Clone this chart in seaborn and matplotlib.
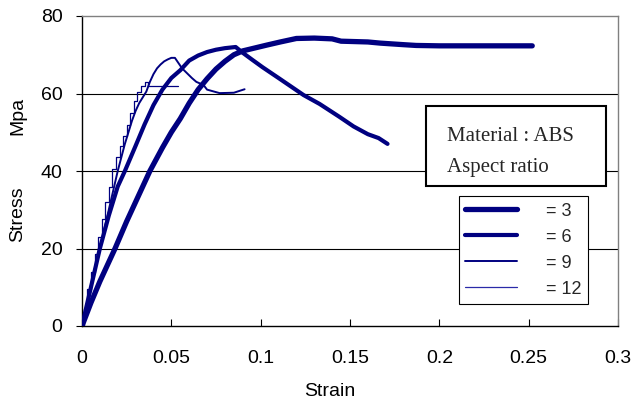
import numpy as np
import pandas as pd
import matplotlib
matplotlib.use("Agg")
import matplotlib.pyplot as plt
import seaborn as sns
from matplotlib.patches import Rectangle
from matplotlib.lines import Line2D

# ---- data ----
x_ar3 = [0, 0.005, 0.010, 0.015, 0.0185, 0.025, 0.030, 0.038, 0.045, 0.050, 0.055,
         0.060, 0.065, 0.070, 0.075, 0.080, 0.085, 0.090, 0.1035, 0.111, 0.120, 0.130, 0.140,
         0.145, 0.160, 0.167, 0.180, 0.187, 0.200, 0.230, 0.252]
y_ar3 = [0, 6, 11.5, 16.5, 20, 27, 32, 40, 46, 50, 53.5,
         57.5, 61, 63.8, 66.3, 68.3, 70, 71, 72.5, 73.3, 74.2, 74.3, 74.1,
         73.5, 73.3, 73, 72.6, 72.4, 72.3, 72.3, 72.3]

x_ar6 = [0, 0.005, 0.010, 0.015, 0.020, 0.024, 0.030, 0.035, 0.040, 0.045, 0.050,
         0.055, 0.060, 0.065, 0.070, 0.075, 0.080, 0.086, 0.090, 0.095, 0.101,
         0.110, 0.117, 0.124, 0.133, 0.144, 0.152, 0.160, 0.166, 0.171]
y_ar6 = [0, 10, 20, 28.5, 36, 40, 46.5, 52, 57, 61, 64,
         66, 68.5, 69.8, 70.7, 71.3, 71.7, 72, 70.5, 68.8, 66.8,
         64, 61.8, 59.6, 57.3, 54, 51.5, 49.5, 48.5, 47]

x_ar9 = [0, 0.002, 0.004, 0.006, 0.008, 0.010, 0.012, 0.014, 0.016, 0.018, 0.020,
         0.022, 0.024, 0.026, 0.028, 0.030, 0.032, 0.034, 0.036, 0.038, 0.040,
         0.042, 0.044, 0.046, 0.048, 0.050, 0.052, 0.056, 0.0615, 0.064, 0.068,
         0.070, 0.077, 0.085, 0.091]
y_ar9 = [0, 4, 8.5, 12.5, 16.5, 20, 24, 28, 32, 36, 40,
         43.5, 47, 50, 53, 55.5, 57.5, 59, 60.5, 63, 65,
         66.5, 67.5, 68.3, 68.8, 69.2, 69.2, 66.5, 64, 63, 62.2,
         61, 60.1, 60.2, 61.1]

x_ar12 = [0, 0.002, 0.004, 0.006, 0.008, 0.010, 0.012, 0.014, 0.016, 0.018, 0.020,
          0.022, 0.024, 0.026, 0.028, 0.030, 0.032, 0.034, 0.036, 0.038, 0.054]
y_ar12 = [0, 4.5, 9.5, 14, 18.5, 23, 27.5, 32, 36, 40.5, 43.5,
          46.5, 49, 52, 55, 58, 60.5, 62, 63, 62, 62]

series_labels = ["= 3", "= 6", "= 9", "= 12"]
x_ticks = [0, 0.05, 0.1, 0.15, 0.2, 0.25, 0.3]
x_tick_labels = ["0", "0.05", "0.1", "0.15", "0.2", "0.25", "0.3"]
y_ticks = [0, 20, 40, 60, 80]

# ---- style ----
sns.set_theme(style="white")
plt.rcParams["font.family"] = ["Liberation Sans", "DejaVu Sans"]

navy = "#000080"
legend_colors = [navy, navy, navy, "#2a2aa8"]
widths = [3.8, 3.0, 1.4, 0.9]

fig = plt.figure(figsize=(6.31, 3.99), dpi=100)
ax = fig.add_axes([82 / 631, 73 / 399, 536 / 631, 310 / 399])

data = [(x_ar3, y_ar3, None), (x_ar6, y_ar6, None),
        (x_ar9, y_ar9, None), (x_ar12, y_ar12, "steps-mid")]
for (xs, ys, ds), lw, lab in zip(data, widths, series_labels):
    df = pd.DataFrame({"strain": xs, "stress": ys})
    kw = {}
    if ds:
        kw["drawstyle"] = ds
    sns.lineplot(data=df, x="strain", y="stress", ax=ax, color=navy, lw=lw,
                 sort=False, estimator=None, legend=False,
                 solid_capstyle="round", solid_joinstyle="round", zorder=3, **kw)

ax.set_xlim(0, 0.3)
ax.set_ylim(0, 80)
ax.set_xticks(x_ticks)
ax.set_xticklabels(x_tick_labels)
ax.set_yticks(y_ticks)
ax.set_xlabel("")
ax.set_ylabel("")

for yv in [20, 40, 60]:
    ax.axhline(yv, color="black", lw=0.8, zorder=1)

for side in ["left", "bottom"]:
    ax.spines[side].set_color("black")
    ax.spines[side].set_linewidth(1.0)
for side in ["top", "right"]:
    ax.spines[side].set_color("#808080")
    ax.spines[side].set_linewidth(1.0)
    ax.spines[side].set_visible(True)

ax.tick_params(axis="x", direction="in", length=5, width=0.8, color="black",
               pad=17, labelsize=14, labelcolor="black", bottom=True)
ax.tick_params(axis="y", direction="out", length=4, width=0.8, color="black",
               pad=10, labelsize=14, labelcolor="black", left=True)

# axis titles
fig.text(330 / 631, 1 - 391 / 399, "Strain", ha="center", va="center",
         fontsize=14, color="black")
fig.text(17.5 / 631, 1 - 214 / 399, "Stress", ha="center", va="center",
         rotation=90, fontsize=14, color="black")
fig.text(17.5 / 631, 1 - 116 / 399, "Mpa", ha="center", va="center",
         rotation=90, fontsize=14, color="black")

# text box
ax.add_patch(Rectangle((0.642, 0.452), 0.336, 0.258, transform=ax.transAxes,
                       facecolor="white", edgecolor="black", lw=1.5, zorder=5))
ax.text(0.681, 0.597, "Material : ABS", transform=ax.transAxes, va="baseline",
        ha="left", fontsize=15, family=["Liberation Serif", "DejaVu Serif"], zorder=6)
ax.text(0.681, 0.497, "Aspect ratio", transform=ax.transAxes, va="baseline",
        ha="left", fontsize=15, family=["Liberation Serif", "DejaVu Serif"], zorder=6)

# legend
handles = [Line2D([0], [0], color=c, lw=lw, solid_capstyle="round")
           for c, lw in zip(legend_colors, widths)]
leg = ax.legend(handles, series_labels, loc="lower left",
                bbox_to_anchor=(0.703, 0.071), frameon=True, fancybox=False,
                fontsize=13, handlelength=2.9, handletextpad=1.6,
                labelspacing=0.5, borderpad=0.35, borderaxespad=0)
leg.get_frame().set_edgecolor("black")
leg.get_frame().set_linewidth(0.8)
leg.get_frame().set_facecolor("white")
leg.get_frame().set_alpha(1)
leg.set_zorder(6)

fig.savefig("out.png", dpi=100, facecolor="white")
